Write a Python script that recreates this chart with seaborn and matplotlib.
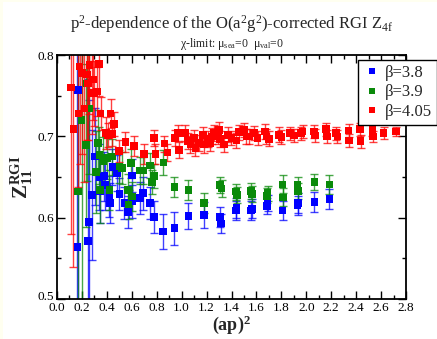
import numpy as np
import pandas as pd
import seaborn as sns
import matplotlib
matplotlib.use("Agg")
import matplotlib.pyplot as plt
from matplotlib.ticker import MultipleLocator, FormatStrFormatter
from matplotlib.patches import Rectangle
from matplotlib.transforms import ScaledTranslation

# ---- data: (ap)^2, Z_11^RGI and its error for each beta ----
x_380 = [0.163, 0.170, 0.250, 0.256, 0.283, 0.305, 0.340, 0.345, 0.380, 0.385,
         0.420, 0.425, 0.444, 0.480, 0.500, 0.540, 0.570, 0.600, 0.605, 0.666,
         0.690, 0.746, 0.780, 0.848, 0.942, 1.054, 1.180, 1.308, 1.315, 1.434,
         1.440, 1.557, 1.565, 1.683, 1.690, 1.810, 1.930, 1.935, 2.065, 2.185]
y_380 = [0.564, 0.757, 0.571, 0.595, 0.628, 0.675, 0.650, 0.633, 0.651, 0.640,
         0.626, 0.618, 0.662, 0.655, 0.629, 0.618, 0.607, 0.652, 0.620, 0.624,
         0.630, 0.618, 0.601, 0.583, 0.587, 0.602, 0.603, 0.601, 0.593, 0.609,
         0.612, 0.609, 0.611, 0.614, 0.618, 0.609, 0.615, 0.618, 0.619, 0.623]
e_380 = [0.300, 0.300, 0.200, 0.150, 0.080, 0.060, 0.040, 0.040, 0.030, 0.030,
         0.025, 0.025, 0.022, 0.022, 0.020, 0.020, 0.020, 0.020, 0.020, 0.020,
         0.020, 0.020, 0.020, 0.022, 0.020, 0.016, 0.016, 0.012, 0.012, 0.012,
         0.012, 0.012, 0.012, 0.010, 0.010, 0.012, 0.012, 0.012, 0.012, 0.012]

x_390 = [0.170, 0.198, 0.240, 0.235, 0.260, 0.313, 0.327, 0.340, 0.345, 0.372,
         0.400, 0.420, 0.440, 0.500, 0.520, 0.572, 0.575, 0.594, 0.600, 0.666,
         0.690, 0.746, 0.760, 0.780, 0.853, 0.942, 1.054, 1.180, 1.308, 1.320,
         1.434, 1.445, 1.557, 1.565, 1.683, 1.690, 1.810, 1.815, 1.930, 1.935,
         2.065, 2.185]
y_390 = [0.632, 0.720, 0.765, 0.689, 0.734, 0.656, 0.692, 0.677, 0.634, 0.669,
         0.673, 0.634, 0.675, 0.663, 0.661, 0.634, 0.616, 0.667, 0.626, 0.658,
         0.658, 0.664, 0.644, 0.651, 0.668, 0.638, 0.634, 0.618, 0.640, 0.636,
         0.632, 0.628, 0.633, 0.629, 0.627, 0.630, 0.641, 0.625, 0.640, 0.633,
         0.644, 0.641]
e_390 = [0.200, 0.250, 0.120, 0.100, 0.080, 0.050, 0.040, 0.035, 0.040, 0.030,
         0.025, 0.025, 0.022, 0.020, 0.020, 0.020, 0.018, 0.018, 0.018, 0.016,
         0.016, 0.015, 0.015, 0.015, 0.015, 0.012, 0.012, 0.012, 0.010, 0.010,
         0.010, 0.010, 0.010, 0.010, 0.009, 0.009, 0.011, 0.011, 0.010, 0.010,
         0.010, 0.012]

x_405 = [0.112, 0.131, 0.171, 0.182, 0.203, 0.220, 0.240, 0.250, 0.260, 0.280,
         0.290, 0.300, 0.320, 0.335, 0.350, 0.393, 0.410, 0.430, 0.440, 0.455,
         0.495, 0.548, 0.620, 0.700, 0.780, 0.790, 0.861, 0.885, 0.947, 0.970,
         0.980, 1.027, 1.050, 1.070, 1.100, 1.110, 1.140, 1.170, 1.180, 1.210,
         1.230, 1.240, 1.260, 1.290, 1.300, 1.310, 1.340, 1.370, 1.400, 1.440,
         1.460, 1.500, 1.520, 1.540, 1.580, 1.610, 1.670, 1.680, 1.700, 1.780,
         1.800, 1.870, 1.900, 1.960, 1.970, 2.060, 2.070, 2.160, 2.165, 2.240,
         2.250, 2.340, 2.345, 2.430, 2.435, 2.530, 2.535, 2.620, 2.720]
y_405 = [0.760, 0.709, 0.728, 0.786, 0.778, 0.734, 0.776, 0.765, 0.788, 0.753,
         0.770, 0.753, 0.755, 0.789, 0.728, 0.704, 0.702, 0.728, 0.703, 0.715,
         0.682, 0.693, 0.688, 0.678, 0.698, 0.678, 0.691, 0.680, 0.698, 0.704,
         0.683, 0.704, 0.694, 0.690, 0.698, 0.686, 0.692, 0.702, 0.690, 0.697,
         0.692, 0.700, 0.704, 0.700, 0.708, 0.697, 0.690, 0.702, 0.698, 0.695,
         0.705, 0.708, 0.700, 0.700, 0.704, 0.698, 0.706, 0.700, 0.697, 0.702,
         0.699, 0.704, 0.701, 0.704, 0.706, 0.706, 0.701, 0.709, 0.700, 0.704,
         0.700, 0.707, 0.695, 0.709, 0.694, 0.708, 0.700, 0.704, 0.706]
e_405 = [0.180, 0.170, 0.090, 0.120, 0.100, 0.090, 0.080, 0.070, 0.060, 0.050,
         0.050, 0.040, 0.030, 0.040, 0.020, 0.020, 0.015, 0.018, 0.015, 0.015,
         0.013, 0.012, 0.012, 0.012, 0.010, 0.012, 0.010, 0.010, 0.010, 0.010,
         0.010, 0.010, 0.010, 0.010, 0.010, 0.010, 0.010, 0.010, 0.010, 0.010,
         0.010, 0.010, 0.010, 0.010, 0.010, 0.010, 0.009, 0.009, 0.009, 0.009,
         0.009, 0.009, 0.009, 0.009, 0.009, 0.009, 0.009, 0.009, 0.009, 0.009,
         0.009, 0.008, 0.008, 0.008, 0.008, 0.008, 0.008, 0.008, 0.008, 0.008,
         0.008, 0.008, 0.008, 0.008, 0.008, 0.007, 0.007, 0.007, 0.006]

labels = ["β=3.8", "β=3.9", "β=4.05"]
colors = ["#0000ff", "#0a8a0a", "#ff0000"]

series = [(x_380, y_380, e_380), (x_390, y_390, e_390), (x_405, y_405, e_405)]
df = pd.concat(
    [pd.DataFrame({"p2": xs, "Z": ys, "err": es, "beta": lab})
     for (xs, ys, es), lab in zip(series, labels)],
    ignore_index=True,
)

sns.set_style("ticks")
plt.rcParams["font.family"] = ["Liberation Serif", "DejaVu Serif"]
plt.rcParams["mathtext.fontset"] = "custom"
plt.rcParams["mathtext.rm"] = "Liberation Serif"
plt.rcParams["mathtext.it"] = "Liberation Serif:italic"
plt.rcParams["mathtext.bf"] = "Liberation Serif:bold"

fig = plt.figure(figsize=(4.37, 3.39), dpi=100, facecolor="#fffff0")
fig.patches.append(Rectangle((3 / 437, 0), 1, 1 - 2 / 339, transform=fig.transFigure,
                             facecolor="white", edgecolor="none", zorder=-10))
ax = fig.add_axes([57 / 437, 1 - 299 / 339, 349 / 437, 244 / 339])

for lab, col in zip(labels, colors):
    sub = df[df["beta"] == lab]
    ax.errorbar(sub["p2"], sub["Z"], yerr=sub["err"], fmt="none", ecolor=col,
                elinewidth=1.0, capsize=3, capthick=1.0, alpha=0.75, zorder=2)

sns.scatterplot(data=df, x="p2", y="Z", hue="beta", palette=colors, hue_order=labels,
                marker="s", s=30, edgecolor="none", linewidth=0, ax=ax, zorder=3)

ax.set_xlim(0.0, 2.8)
ax.set_ylim(0.5, 0.8)
ax.xaxis.set_major_locator(MultipleLocator(0.2))
ax.xaxis.set_minor_locator(MultipleLocator(0.1))
ax.yaxis.set_major_locator(MultipleLocator(0.1))
ax.yaxis.set_minor_locator(MultipleLocator(0.05))
ax.xaxis.set_major_formatter(FormatStrFormatter("%.1f"))
ax.yaxis.set_major_formatter(FormatStrFormatter("%.1f"))
ax.tick_params(which="both", direction="in", top=True, right=True, colors="black",
               labelsize=9.5, pad=2)
ax.tick_params(which="major", length=6, width=1.0)
ax.tick_params(which="minor", length=3, width=1.0)
for sp in ax.spines.values():
    sp.set_linewidth(1.3)
    sp.set_color("black")
# the lowest y label sits a few pixels higher than the others
fig.canvas.draw()
for t in ax.get_yticklabels():
    if t.get_text() == "0.5":
        t.set_transform(t.get_transform() + ScaledTranslation(0, 3 / 100, fig.dpi_scale_trans))

ax.set_xlabel(r"$\mathbf{(ap)^2}$", fontsize=13, labelpad=0)
ax.set_ylabel(r"$\mathbf{Z_{11}^{RGI}}$", fontsize=15, labelpad=2)

fig.text(0.530, 0.915, r"p$^2$-dependence of the O(a$^2$g$^2$)-corrected RGI Z$_{\rm 4f}$",
         ha="center", va="baseline", fontsize=12)
fig.text(0.530, 0.862, r"χ-limit: μ$_{\rm sea}$=0  μ$_{\rm val}$=0",
         ha="center", va="baseline", fontsize=8.5)

handles, _ = ax.get_legend_handles_labels()
ax.legend(handles, labels, loc="upper right", bbox_to_anchor=(1.0, 1 - 60 / 339),
          bbox_transform=fig.transFigure, frameon=True, fancybox=False,
          edgecolor="black", framealpha=1, fontsize=12, borderaxespad=0,
          handletextpad=0.3, handlelength=1.0, borderpad=0.3, labelspacing=0.2,
          markerscale=0.8)
ax.get_legend().get_frame().set_linewidth(1.0)

fig.savefig("out.png", dpi=100, facecolor=fig.get_facecolor())
